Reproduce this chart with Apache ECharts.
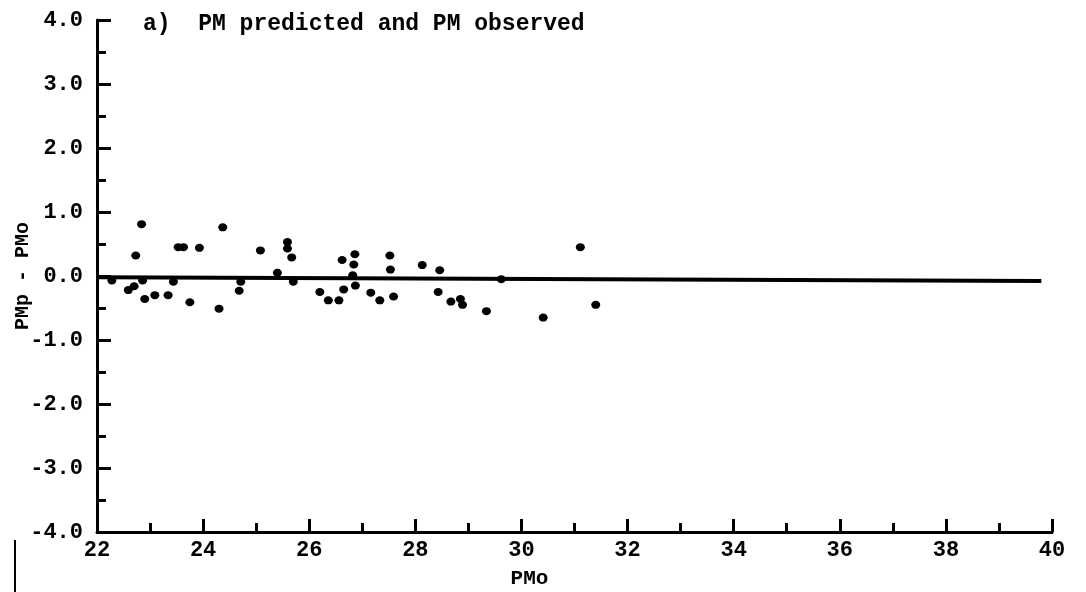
<!DOCTYPE html>
<html>
<head>
<meta charset="utf-8">
<script src="https://cdn.jsdelivr.net/npm/echarts@6/dist/echarts.min.js"></script>
<style>
	html, body { margin: 0; padding: 0; background: #fff; }
	#chart { width: 1086px; height: 592px; }
</style>
</head>
<body>
<div id="chart"></div>
<script>
// PMo (observed) values
var pmo = [
	22.28, 22.59, 22.70, 22.73, 22.84, 22.86, 22.90, 23.09, 23.34, 23.44,
	23.53, 23.63, 23.75, 23.93, 24.30, 24.37, 24.68, 24.71, 25.08, 25.40,
	25.59, 25.59, 25.67, 25.70, 26.20, 26.36, 26.56, 26.62, 26.65, 26.82,
	26.84, 26.86, 26.87, 27.16, 27.33, 27.52, 27.53, 27.59, 28.13, 28.43,
	28.46, 28.67, 28.85, 28.89, 29.34, 29.62, 30.41, 31.11, 31.40
];
// PMp - PMo
var diff = [
	-0.07, -0.22, -0.16, 0.32, 0.81, -0.07, -0.36, -0.30, -0.30, -0.09,
	0.45, 0.45, -0.41, 0.44, -0.51, 0.76, -0.23, -0.09, 0.40, 0.05,
	0.53, 0.43, 0.29, -0.09, -0.25, -0.38, -0.38, 0.25, -0.21, 0.01,
	0.18, 0.34, -0.15, -0.26, -0.38, 0.32, 0.10, -0.32, 0.17, -0.25,
	0.09, -0.40, -0.36, -0.45, -0.55, -0.05, -0.65, 0.45, -0.45
];
// reference line (ends)
var lineX = [22, 39.8];
var lineY = [-0.02, -0.08];

var titleText = 'a)  PM predicted and PM observed';

var pts = pmo.map(function (x, i) { return [x, diff[i]]; });
var linePts = lineX.map(function (x, i) { return [x, lineY[i]]; });

var font = 'Liberation Mono';

var option = {
	backgroundColor: '#fff',
	animation: false,
	title: {
		text: titleText,
		left: 138,
		top: 8,
		textStyle: { fontFamily: font, fontWeight: 'bold', fontSize: 23, color: '#000' }
	},
	grid: { left: 97, right: 34, top: 20, bottom: 60, outerBoundsMode: 'none', containLabel: false },
	xAxis: {
		type: 'value',
		min: 22, max: 40, interval: 2,
		name: 'PMo',
		nameLocation: 'middle',
		nameGap: 36,
		nameMoveOverlap: false,
		nameTextStyle: { fontFamily: font, fontWeight: 'bold', fontSize: 21, color: '#000', padding: [0, 90, 0, 0] },
		axisLine: { onZero: false, lineStyle: { color: '#000', width: 3 } },
		axisTick: { inside: true, length: 13, lineStyle: { color: '#000', width: 3 } },
		minorTick: { show: true, splitNumber: 2, length: 9, lineStyle: { color: '#000', width: 3 } },
		axisLabel: { margin: 7, fontFamily: font, fontWeight: 'bold', fontSize: 22, color: '#000' },
		splitLine: { show: false }
	},
	yAxis: {
		type: 'value',
		min: -4, max: 4, interval: 1,
		name: 'PMp - PMo',
		nameLocation: 'middle',
		nameGap: 64,
		nameMoveOverlap: false,
		nameTextStyle: { fontFamily: font, fontWeight: 'bold', fontSize: 20, color: '#000' },
		axisLine: { onZero: false, lineStyle: { color: '#000', width: 3 } },
		axisTick: { inside: true, length: 14, lineStyle: { color: '#000', width: 3 } },
		minorTick: { show: true, splitNumber: 2, length: 9, lineStyle: { color: '#000', width: 3 } },
		axisLabel: {
			margin: 14, fontFamily: font, fontWeight: 'bold', fontSize: 22, color: '#000',
			formatter: function (v) { return v.toFixed(1); }
		},
		splitLine: { show: false }
	},
	graphic: [{
		type: 'line',
		shape: { x1: 15, y1: 540, x2: 15, y2: 592 },
		style: { stroke: '#000', lineWidth: 2 }
	}],
	series: [{
		type: 'line',
		data: linePts,
		symbol: 'none',
		lineStyle: { color: '#000', width: 4 },
		silent: true
	}, {
		type: 'scatter',
		data: pts,
		symbol: 'circle',
		symbolSize: [9, 8],
		itemStyle: { color: '#000', opacity: 1 }
	}]
};

var myChart = echarts.init(document.getElementById('chart'));
myChart.setOption(option);
</script>
</body>
</html>
